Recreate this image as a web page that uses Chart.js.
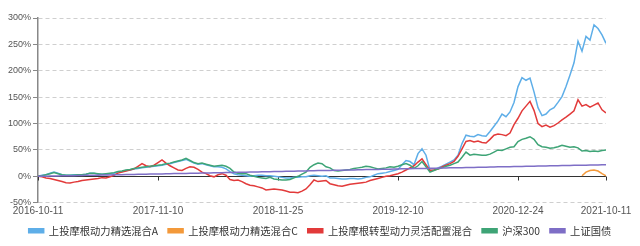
<!DOCTYPE html>
<html><head><meta charset="utf-8">
<script src="https://cdn.jsdelivr.net/npm/chart.js@4/dist/chart.umd.min.js"></script>
<style>html,body{margin:0;padding:0;background:#fff;}#wrap{width:640px;height:246px;}</style>
</head><body><div id="wrap"><canvas id="c" width="640" height="246"></canvas></div>
<script>
const seriesNames = ['上投摩根动力精选混合A','上投摩根动力精选混合C','上投摩根转型动力灵活配置混合','沪深300','上证国债'];
const tickLabels = ['2016-10-11','2017-11-10','2018-11-25','2019-12-10','2020-12-24','2021-10-11'];
const tickIndex = [0,30,60,90,120,142];
const yTicks = [-50,0,50,100,150,200,250,300];

const fundA = [0,2,3,6,8,6,3,2,2,3, 3,3,4,6,6,4,4,4,5,6, 8,9,11,12,14,15,16,17,18,19, 20,21,23,24,26,28,30,32,29,25,
 23,24,22,20,18,18,17,14,9,5, 3,2,1,0,1,2,2,1,1,0, -1,-2,-3,-3,-2,-2,-1,-1,1,2,
 1,0,1,-3,-3,-4,-5,-5,-4,-4, -5,-4,-2,-1,2,5,6,7,9,11, 13,22,30,28,22,43,52,40,11,12,
 16,19,23,27,31,40,62,78,76,75, 79,77,76,85,95,105,118,113,122,140, 170,187,182,186,160,130,115,118,126,130,
 140,151,170,192,215,256,237,265,258,287, 280,268,252];
const cStart = 136;
const fundC = [1,8,11,12,10,5,1];
const fundZX = [0,-1,-3,-4,-6,-8,-10,-12,-12.5,-11, -10,-8,-7,-6,-5,-4,-2.5,-3,-1,2, 6,8,10,12,14,19,24,20,18,21,
 26,31,25,20,16,12,11,15,18,17, 13,8,5,1,-1,3,5,2,-6,-8, -7,-10,-14,-17,-18,-20,-22,-26,-25,-24,
 -25,-26,-28,-30,-30,-31,-28,-24,-16,-7, -10,-9,-8,-14,-16,-18,-19,-17,-15,-14, -13,-12,-11,-8,-6,-4,-2,0,1,3,
 5,8,12,16,20,27,33,22,11,12, 14,18,21,24,28,38,52,66,68,65, 67,64,63,70,78,80,79,77,82,98,
 110,124,133,142,125,100,94,97,93,96, 101,107,112,118,124,145,133,136,131,135, 139,126,120];
const hs300 = [0,1,3,5,7,5,3,2,2,2, 3,3,4,6,6,5,4,5,6,7, 9,10,12,13,15,16,17,18,19,20, 21,22,24,25,27,29,31,34,30,26,
 24,25,23,21,19,20,21,19,15,8, 6,5,5,2,0,-2,-3,-4,-2,-5, -6,-7,-7,-6,-3,0,4,8,17,22,
 25,24,18,16,11,10,11,12,13,15, 16,17,19,18,16,14,15,16,18,17, 19,22,24,21,15,20,28,18,8,11,
 14,16,19,21,24,27,36,46,40,42, 41,40,40,42,46,50,49,52,55,56, 66,70,72,75,70,60,56,55,53,54,
 56,59,57,55,56,54,48,49,47,48, 47,49,50];
const bond = [0,0.1,0.3,0.4,0.6,0.7,0.9,1.0,1.2,1.3, 1.5,1.6,1.8,1.9,2.1,2.2,2.4,2.5,2.7,2.8,
 3.0,3.1,3.3,3.4,3.6,3.7,3.9,4.0,4.2,4.3, 4.5,4.6,4.8,4.9,5.1,5.2,5.4,5.5,5.7,5.8,
 6.0,6.1,6.3,6.4,6.6,6.8,6.9,7.1,7.2,7.4, 7.6,7.7,7.9,8.0,8.2,8.4,8.5,8.7,8.8,9.0,
 9.2,9.3,9.5,9.6,9.8,10.0,10.1,10.3,10.4,10.6, 10.8,10.9,11.1,11.2,11.4,11.5,11.7,11.9,12.0,12.2,
 12.3,12.5,12.7,12.8,13.0,13.1,13.3,13.4,13.6,13.8, 13.9,14.1,14.2,14.4,14.6,14.7,14.9,15.0,15.2,15.3,
 15.5,15.7,15.8,16.0,16.1,16.3,16.4,16.6,16.8,16.9, 17.1,17.2,17.4,17.5,17.7,17.9,18.0,18.2,18.3,18.5,
 18.6,18.8,19.0,19.1,19.3,19.4,19.6,19.7,19.9,20.0, 20.2,20.3,20.5,20.6,20.8,20.9,21.1,21.2,21.4,21.5,
 21.6,21.8,21.9];
const colors = ['#5eaee8','#f3993a','#e23a3a','#3ea476','#7e6ec6'];

const pts = (arr, start) => arr.map((v,i)=>({x:i+(start||0), y:v}));
const mk = (i, data, order) => ({label:seriesNames[i], data, borderColor:colors[i], backgroundColor:colors[i],
  borderWidth:1.5, pointRadius:0, tension:0, order, spanGaps:false});

const zeroLine = {
  id:'zeroLine',
  beforeDatasetsDraw(chart){
    const {ctx, chartArea, scales} = chart;
    const y0 = Math.round(scales.y.getPixelForValue(0)) + 0.5;
    ctx.save();
    ctx.strokeStyle = '#333'; ctx.lineWidth = 1;
    ctx.beginPath(); ctx.moveTo(chartArea.left, y0); ctx.lineTo(chartArea.right, y0); ctx.stroke();
    tickIndex.forEach(v=>{
      const x = Math.round(scales.x.getPixelForValue(v)) + 0.5;
      ctx.beginPath(); ctx.moveTo(x, y0); ctx.lineTo(x, y0+4); ctx.stroke();
    });
    ctx.restore();
  }
};

new Chart(document.getElementById('c'), {
  type:'line',
  data:{datasets:[
    mk(0, pts(fundA), 5),
    mk(1, pts(fundC, cStart), 4),
    mk(2, pts(fundZX), 3),
    mk(3, pts(hs300), 2),
    mk(4, pts(bond), 1)
  ]},
  options:{
    responsive:false, animation:false, devicePixelRatio:1,
    layout:{padding:{top:18,left:0,right:0,bottom:0}},
    plugins:{
      tooltip:{enabled:false},
      legend:{position:'bottom', labels:{boxWidth:15, boxHeight:4, padding:10, color:'#333',
        font:{family:'"Noto Sans CJK SC", sans-serif', size:10.3},
        sort:(a,b)=>a.datasetIndex-b.datasetIndex}}
    },
    scales:{
      x:{type:'linear', min:0, max:142,
        afterBuildTicks:(s)=>{ s.ticks = tickIndex.map(v=>({value:v})); },
        afterFit:(s)=>{ s.height = 13; s.paddingRight = 34; },
        grid:{display:false, drawTicks:false}, border:{display:false},
        ticks:{autoSkip:false, maxRotation:0, padding:3, color:'#555',
          font:{family:'"Liberation Sans", Arial, sans-serif', size:10},
          callback:(v)=>{ const k = tickIndex.indexOf(v); return k>=0 ? tickLabels[k] : ''; }}
      },
      y:{min:-50, max:300,
        afterBuildTicks:(s)=>{ s.ticks = yTicks.map(v=>({value:v})); },
        afterFit:(s)=>{ s.width = 38; },
        grid:{color:'#cfcfcf', lineWidth:1, drawTicks:true, tickLength:5, tickColor:'#888', tickBorderDash:[], tickWidth:1},
        border:{display:true, color:'#888', width:1.5, dash:[4,3]},
        ticks:{padding:2, color:'#555', font:{family:'"Liberation Sans", Arial, sans-serif', size:9},
          callback:(v)=>v+'%'}
      }
    }
  },
  plugins:[zeroLine]
});
</script></body></html>
